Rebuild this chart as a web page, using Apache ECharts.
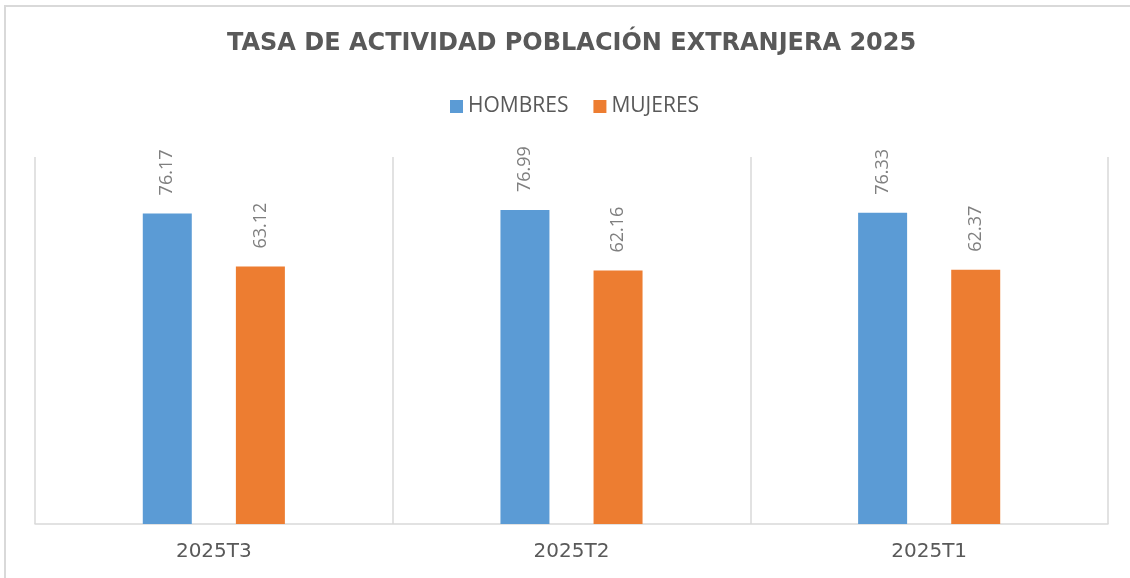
<!DOCTYPE html>
<html>
<head>
<meta charset="utf-8">
<script src="https://cdn.jsdelivr.net/npm/echarts@6/dist/echarts.min.js"></script>
<style>
  html, body { margin: 0; padding: 0; background: #fff; }
  #chart { width: 1130px; height: 578px; }
</style>
</head>
<body>
<div id="chart"></div>
<script>
const categories = ['2025T3', '2025T2', '2025T1'];
const hombres = [76.17, 76.99, 76.33];
const mujeres = [63.12, 62.16, 62.37];

const myChart = echarts.init(document.getElementById('chart'));

const labelStyle = {
    show: true,
    position: 'top',
    rotate: 90,
    align: 'left',
    verticalAlign: 'middle',
    distance: 18,
    color: '#7f7f7f',
    fontSize: 18,
    fontFamily: 'Open Sans',
    formatter: (p) => p.value.toFixed(2),
};

const option = {
    animation: false,
    backgroundColor: '#fff',
    title: {
        text: 'TASA DE ACTIVIDAD POBLACIÓN EXTRANJERA 2025',
        left: 227,
        top: 32,
        padding: 0,
        textStyle: {
            color: '#595959',
            fontSize: 24,
            fontWeight: 'bold',
            fontFamily: 'DejaVu Sans',
        },
    },
    legend: {
        top: 91,
        left: 445,
        itemWidth: 13,
        itemHeight: 13,
        itemGap: 25,
        icon: 'rect',
        textStyle: {
            color: '#595959',
            fontSize: 21,
            fontFamily: 'Open Sans',
        },
    },
    graphic: [
        {
            type: 'rect',
            shape: { x: 5, y: 6, width: 1200, height: 700 },
            style: { fill: 'none', stroke: '#d9d9d9', lineWidth: 2 },
            silent: true,
        },
    ],
    grid: {
        left: 35,
        right: 22,
        top: 157,
        bottom: 54,
    },
    xAxis: {
        type: 'category',
        data: categories,
        axisLine: { lineStyle: { color: '#d9d9d9', width: 1.5 } },
        axisTick: { show: false },
        splitLine: { show: true, lineStyle: { color: '#d9d9d9', width: 1.5 } },
        axisLabel: {
            color: '#595959',
            fontSize: 20,
            fontFamily: 'DejaVu Sans',
            margin: 18,
        },
    },
    yAxis: {
        type: 'value',
        min: 0,
        max: 90,
        interval: 10,
        axisLine: { show: false },
        axisTick: { show: false },
        axisLabel: { show: false },
        splitLine: { show: false },
    },
    series: [
        {
            name: 'HOMBRES',
            type: 'bar',
            data: hombres,
            barWidth: 49,
            barGap: '90%',
            itemStyle: { color: '#5b9bd5' },
            label: labelStyle,
        },
        {
            name: 'MUJERES',
            type: 'bar',
            data: mujeres,
            barWidth: 49,
            itemStyle: { color: '#ed7d31' },
            label: labelStyle,
        },
    ],
};

myChart.setOption(option);

window.addEventListener('resize', () => myChart.resize());
</script>
</body>
</html>
